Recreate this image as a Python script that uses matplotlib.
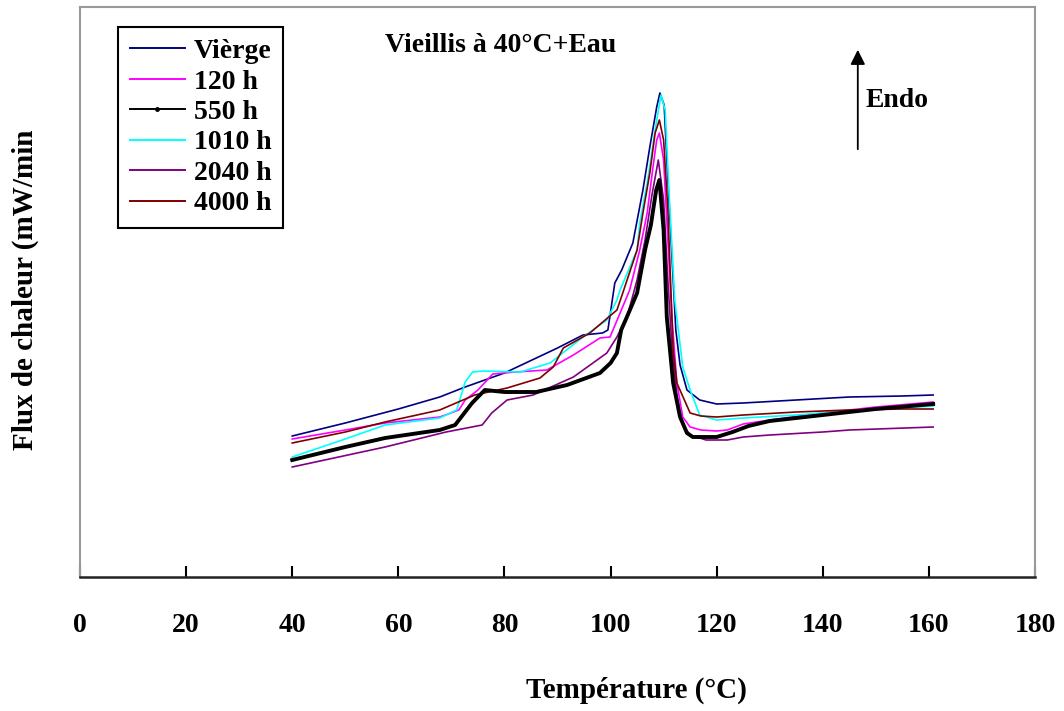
import matplotlib
matplotlib.use("Agg")
import matplotlib.pyplot as plt
from matplotlib.lines import Line2D

plt.rcParams['font.family'] = ['Liberation Serif', 'DejaVu Serif']
plt.rcParams['font.weight'] = 'bold'

# temperatures (°C) and heat flux (arbitrary units)
t_vierge = [40, 50, 60, 67.8, 72.6, 80, 90, 94.8, 98.5, 99.5, 100.8, 102.1, 104.2, 106.1, 107.4, 108.7, 109.3,
            110.1, 110.8, 111.6, 112.3, 113.1, 114.4, 116.8, 120, 125, 135, 145, 155, 160.8]
f_vierge = [2.82, 3.08, 3.36, 3.60, 3.80, 4.08, 4.58, 4.84, 4.88, 4.94, 5.88, 6.14, 6.68, 7.74, 8.60, 9.40, 9.68,
            9.44, 7.94, 6.34, 4.94, 4.24, 3.74, 3.54, 3.46, 3.48, 3.54, 3.60, 3.62, 3.64]

t_120 = [40, 50, 57.5, 67.8, 69.4, 71.4, 72.6, 75, 77.8, 82, 88, 93, 98, 99.9, 101.8, 103.6, 105.5, 106.9, 108,
         108.7, 109.2, 110, 110.8, 111.6, 112.5, 113.6, 115, 117, 120, 122, 125, 130, 140, 150, 160.8]
f_120 = [2.76, 2.94, 3.08, 3.20, 3.26, 3.34, 3.54, 3.74, 4.06, 4.10, 4.14, 4.44, 4.78, 4.80, 5.28, 5.74, 6.54, 7.28,
         8.20, 8.74, 8.88, 8.34, 6.74, 5.14, 3.88, 3.20, 3.00, 2.94, 2.92, 2.94, 3.06, 3.14, 3.28, 3.40, 3.50]

t_550 = [40, 50, 57.5, 67.8, 70.7, 73.9, 76.3, 80, 86, 91.8, 98, 100, 101.2, 102, 103, 105, 106.5, 107.6, 108.6,
         109.2, 110, 110.6, 111.8, 113.1, 114.4, 115.5, 120, 123, 126, 130, 140, 150, 160.8]
f_550 = [2.34, 2.60, 2.78, 2.94, 3.04, 3.48, 3.74, 3.70, 3.70, 3.84, 4.08, 4.28, 4.48, 4.94, 5.18, 5.68, 6.54, 7.04,
         7.74, 7.94, 6.94, 5.20, 3.88, 3.20, 2.88, 2.80, 2.80, 2.90, 3.02, 3.12, 3.24, 3.36, 3.46]

t_1010 = [40, 50, 57.5, 67.8, 71, 72.6, 74, 76, 83, 88.6, 94.8, 99.3, 101.2, 101.8, 105, 105.5, 107, 108.4, 109.5,
          110.3, 111, 112.1, 113.6, 115, 116.8, 120, 125, 135, 145, 155, 160.8]
f_1010 = [2.40, 2.76, 3.04, 3.18, 3.34, 3.90, 4.10, 4.12, 4.10, 4.28, 4.80, 5.14, 5.54, 5.74, 6.54, 7.08, 7.94, 8.94,
          9.64, 9.34, 7.74, 5.54, 4.20, 3.74, 3.24, 3.14, 3.18, 3.24, 3.32, 3.38, 3.42]

t_2040 = [40, 57.5, 69, 75.8, 77.6, 80.5, 85.4, 93, 99.3, 101.2, 103.1, 105, 106.5, 107.8, 109, 110, 110.8, 111.6,
          112.5, 113.6, 115, 118, 122, 125, 130, 140, 145, 160.8]
f_2040 = [2.20, 2.60, 2.90, 3.04, 3.28, 3.54, 3.64, 4.00, 4.48, 4.80, 5.20, 5.94, 6.74, 7.64, 8.34, 7.54, 5.94, 4.54,
          3.64, 3.04, 2.84, 2.74, 2.74, 2.80, 2.84, 2.90, 2.94, 3.00]

t_4000 = [40, 50, 57.5, 67.8, 74.4, 80.5, 86.7, 89.2, 91.1, 96.1, 101.2, 102.3, 105, 106.1, 107.4, 108.4, 109.2,
          110, 110.8, 111.8, 112.5, 115, 117, 120, 125, 135, 145, 155, 160.8]
f_4000 = [2.68, 2.90, 3.10, 3.34, 3.64, 3.78, 3.98, 4.20, 4.58, 4.88, 5.34, 5.68, 6.54, 7.28, 8.08, 8.88, 9.14,
          8.74, 7.34, 4.54, 3.88, 3.28, 3.22, 3.20, 3.24, 3.30, 3.34, 3.36, 3.36]

noms = ['Vièrge', '120 h', '550 h', '1010 h', '2040 h', '4000 h']
couleurs = ['#000080', '#ff00ff', '#000000', '#00ffff', '#800080', '#800000']
x_ticks = [0, 20, 40, 60, 80, 100, 120, 140, 160, 180]

fig = plt.figure(figsize=(10.64, 7.11), dpi=100)
ax = fig.add_axes([80 / 1064, 1 - 577 / 711, 955 / 1064, 570 / 711])

series = [(t_vierge, f_vierge), (t_120, f_120), (t_550, f_550),
          (t_1010, f_1010), (t_2040, f_2040), (t_4000, f_4000)]
handles = []
for (t, f), nom, c in zip(series, noms, couleurs):
    if nom == '550 h':
        ax.plot(t, f, color=c, lw=2.8, zorder=5)
        handles.append(Line2D([], [], color=c, lw=1.4, marker='.', markersize=5, label=nom))
    else:
        ax.plot(t, f, color=c, lw=1.2, zorder=3)
        handles.append(Line2D([], [], color=c, lw=1.4, label=nom))

ax.set_xlim(0, 180)
ax.set_ylim(0, 11.4)
ax.set_xticks(x_ticks)
ax.set_yticks([])
ax.tick_params(axis='x', direction='in', length=8, width=1.5, pad=26, labelsize=20)
for lab in ax.get_xticklabels():
    lab.set_fontweight('bold')
for s in ['left', 'top', 'right']:
    ax.spines[s].set_color('#999999')
    ax.spines[s].set_linewidth(1.5)
ax.spines['bottom'].set_color('#222222')
ax.spines['bottom'].set_linewidth(1.8)

leg = ax.legend(handles=handles, loc='upper left', bbox_to_anchor=(38 / 955, 1 - 20 / 570),
                borderaxespad=0, fancybox=False, framealpha=1, edgecolor='black',
                handlelength=2.0, handletextpad=0.3, labelspacing=0.18, borderpad=0.42,
                prop={'weight': 'bold', 'size': 20})
leg.get_frame().set_linewidth(1.5)

ax.text(79.2, 10.64, 'Vieillis à 40°C+Eau', ha='center', va='center', fontsize=20, fontweight='bold')
ax.annotate('', xy=(146.6, 10.6), xytext=(146.6, 8.5),
            arrowprops=dict(arrowstyle='-|>', color='black', lw=1.3, mutation_scale=22))
ax.text(148.0, 9.54, 'Endo', ha='left', va='center', fontsize=20, fontweight='bold')

fig.text(25 / 1064, 1 - 290 / 711, 'Flux de chaleur (mW/min', rotation=90, ha='center', va='center',
         fontsize=21, fontweight='bold')
fig.text(636 / 1064, 1 - 690 / 711, 'Température (°C)', ha='center', va='center',
         fontsize=21, fontweight='bold')

plt.savefig('out.png', dpi=100)
plt.close()
